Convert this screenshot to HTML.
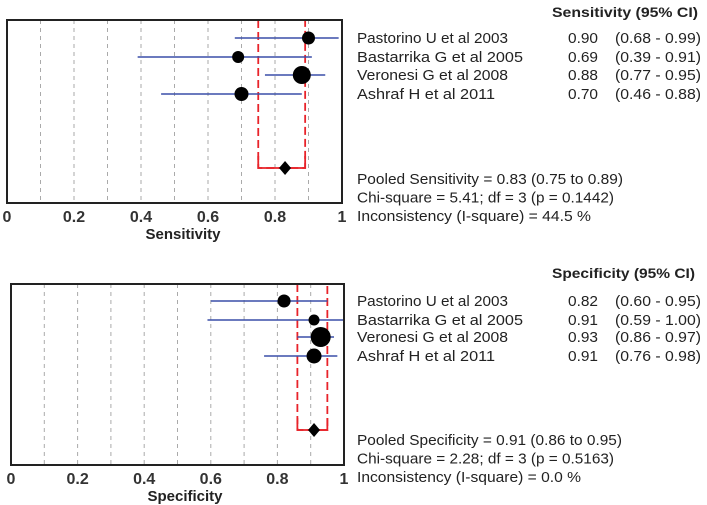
<!DOCTYPE html>
<html><head><meta charset="utf-8"><style>
html,body{margin:0;padding:0;background:#fff;}
svg{display:block;font-family:"Liberation Sans",sans-serif;}
</style></head><body>
<svg id="chart" width="707" height="505" viewBox="0 0 707 505"></svg>
<script>
const studies = ["Pastorino U et al 2003","Bastarrika G et al 2005","Veronesi G et al 2008","Ashraf H et al 2011"];
const sensEst = [0.90,0.69,0.88,0.70];
const sensLo = [0.68,0.39,0.77,0.46];
const sensHi = [0.99,0.91,0.95,0.88];
const sensSize = [6.5,6,9,7];
const sensPooled = [0.83,0.75,0.89];
const specEst = [0.82,0.91,0.93,0.91];
const specLo = [0.60,0.59,0.86,0.76];
const specHi = [0.95,1.00,0.97,0.98];
const specSize = [6.5,5.5,10,7.5];
const specPooled = [0.91,0.86,0.95];
const ticks = [0,0.2,0.4,0.6,0.8,1];
const grid = [0.1,0.2,0.3,0.4,0.5,0.6,0.7,0.8,0.9];

const NS="http://www.w3.org/2000/svg";
const svg=document.getElementById('chart');
function mk(tag,attrs,parent){const e=document.createElementNS(NS,tag);for(const k in attrs)e.setAttribute(k,attrs[k]);(parent||svg).appendChild(e);return e;}
function txt(s,attrs,parent){const e=mk('text',attrs,parent);e.textContent=s;return e;}
const nameW=[151,166,151,138];

function panel(cfg){
  const g=mk('g',{});
  
  
  const x=v=>cfg.x0+v*(cfg.x1-cfg.x0);
  grid.forEach(v=>{const l=mk('line',{x1:x(v),x2:x(v),y1:cfg.y0,y2:cfg.y1,stroke:'#aaa','stroke-dasharray':'4,4','stroke-width':1},g);
    
    });
  const py=cfg.pooledY;
  const rp=mk('path',{d:`M${x(cfg.pooled[1])},${cfg.y0} V${py} H${x(cfg.pooled[2])} V${cfg.y0}`,fill:'none',stroke:'#e8232a','stroke-width':1.8,'stroke-dasharray':'8,4'},g);
  
  
  mk('path',{d:`M${x(cfg.pooled[1])},${py-12} V${py} H${x(cfg.pooled[2])} V${py-12}`,fill:'none',stroke:'#e8232a','stroke-width':1.8},g);
  cfg.est.forEach((v,i)=>{
    const y=cfg.rowY[i];
    const l=mk('line',{x1:x(cfg.lo[i]),x2:x(cfg.hi[i]),y1:y,y2:y,stroke:'#3a4fa8','stroke-width':1.6},g);
    
    
    const c=mk('circle',{cx:x(v),cy:y,r:cfg.size[i],fill:'#000'},g);
    
    
  });
  const px=x(cfg.pooled[0]);
  const d=mk('path',{d:`M${px},${py-7} L${px+6},${py} L${px},${py+7} L${px-6},${py} Z`,fill:'#000'},g);
  
  
  const b=mk('rect',{x:cfg.x0,y:cfg.y0,width:cfg.x1-cfg.x0,height:cfg.y1-cfg.y0,fill:'none',stroke:'#222','stroke-width':2},g);
  
  
  ticks.forEach(v=>{const t=txt(String(v),{x:x(v),y:cfg.y1+19,'text-anchor':'middle','font-size':16,'font-weight':'bold',fill:'#333'},g);
    
    });
  const at=txt(cfg.title,{x:cfg.titleX,y:cfg.y1+36,'text-anchor':'middle','font-size':15,'font-weight':'bold',fill:'#222'},g);
  
  
  const h=txt(cfg.title+' (95% CI)',{x:552,y:cfg.headY,'font-size':14,'font-weight':'bold',fill:'#222',textLength:cfg.headW,lengthAdjust:'spacingAndGlyphs'},g);
  
  
  studies.forEach((s,i)=>{
    const y=cfg.rowY[i]+5;
    const n=txt(s,{x:357,y:y,'font-size':14.5,fill:'#222',textLength:nameW[i],lengthAdjust:'spacingAndGlyphs'},g);
    
    
    const e=txt(cfg.est[i].toFixed(2),{x:568,y:y,'font-size':14.5,fill:'#222',textLength:30,lengthAdjust:'spacingAndGlyphs'},g);
    
    
    const ci=txt(`(${cfg.lo[i].toFixed(2)} - ${cfg.hi[i].toFixed(2)})`,{x:615,y:y,'font-size':14.5,fill:'#222',textLength:86,lengthAdjust:'spacingAndGlyphs'},g);
    
    
  });
  cfg.summary.forEach((s,i)=>{const t=txt(s,{x:357,y:cfg.sumY+i*18.5,'font-size':14.5,fill:'#222',textLength:cfg.sumW[i],lengthAdjust:'spacingAndGlyphs'},g);
    
    });
}
panel({name:'sensitivity',title:'Sensitivity',x0:7,x1:342,y0:20,y1:203,rowY:[38,57,75,94],pooledY:168,headW:146,
  est:sensEst,lo:sensLo,hi:sensHi,size:sensSize,pooled:sensPooled,titleX:183,headY:17,sumY:184,sumW:[266,257,234],
  summary:[`Pooled Sensitivity = ${sensPooled[0].toFixed(2)} (${sensPooled[1].toFixed(2)} to ${sensPooled[2].toFixed(2)})`,'Chi-square = 5.41; df =  3 (p = 0.1442)','Inconsistency (I-square) = 44.5 %']});
panel({name:'specificity',title:'Specificity',x0:11,x1:344,y0:284,y1:465,rowY:[301,320,337,356],pooledY:430,headW:143,
  est:specEst,lo:specLo,hi:specHi,size:specSize,pooled:specPooled,titleX:185,headY:278,sumY:445,sumW:[265,257,224],
  summary:[`Pooled Specificity = ${specPooled[0].toFixed(2)} (${specPooled[1].toFixed(2)} to ${specPooled[2].toFixed(2)})`,'Chi-square = 2.28; df =  3 (p = 0.5163)','Inconsistency (I-square) = 0.0 %']});
</script>
</body></html>
